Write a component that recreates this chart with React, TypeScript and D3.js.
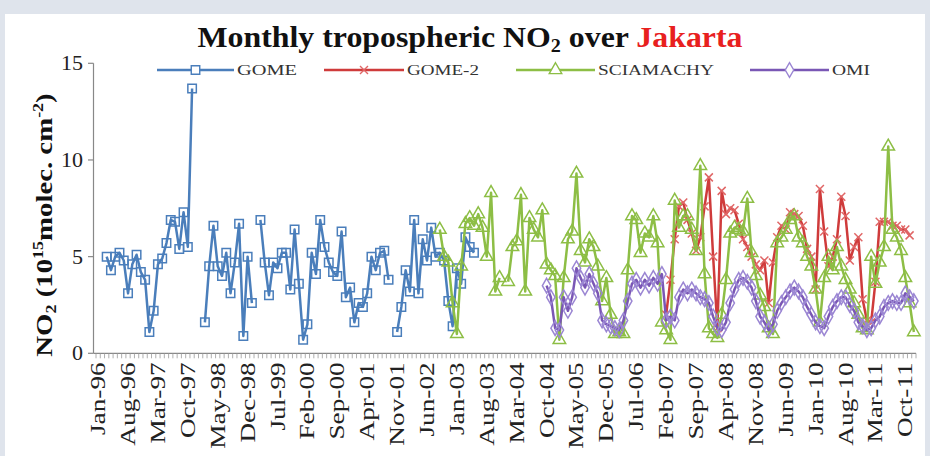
import React from 'react';
import * as d3 from 'd3';

const W = 930;
const H = 456;

const monthNames = ['Jan', 'Feb', 'Mar', 'Apr', 'May', 'Jun', 'Jul', 'Aug', 'Sep', 'Oct', 'Nov', 'Dec'];
const years = d3.range(1996, 2012);
const categories: string[] = [];
years.forEach((y) => monthNames.forEach((m) => categories.push(`${m}-${String(y % 100).padStart(2, '0')}`)));

const tickLabels = ['Jan-96', 'Aug-96', 'Mar-97', 'Oct-97', 'May-98', 'Dec-98', 'Jul-99', 'Feb-00', 'Sep-00', 'Apr-01', 'Nov-01', 'Jun-02', 'Jan-03', 'Aug-03', 'Mar-04', 'Oct-04', 'May-05', 'Dec-05', 'Jul-06', 'Feb-07', 'Sep-07', 'Apr-08', 'Nov-08', 'Jun-09', 'Jan-10', 'Aug-10', 'Mar-11', 'Oct-11'];
const yTicks = [0, 5, 10, 15];

// GOME, from Jan-96
const gomeStart = 'Jan-96';
const gomeValues: (number | null)[] = [
  null, null, 5.0, 4.3, 5.0, 5.2, 4.8, 3.1, 4.6, 5.1, 4.2, 3.8, 1.1, 2.2, 4.6, 4.9, 5.7, 6.9, 6.8, 5.4, 7.3, 5.5, 13.7, null,
  null, 1.6, 4.5, 6.6, 4.5, 4.0, 5.2, 3.1, 4.7, 6.7, 0.9, 5.0, 2.6, null, 6.9, 4.7, 3.0, 4.7, 4.4, 5.2, 5.2, 3.3, 6.4, 3.6,
  0.7, 1.5, 5.2, 4.1, 6.9, 5.5, 4.7, 4.2, 4.0, 6.3, 2.9, 3.4, 1.6, 2.6, 2.4, 3.1, 5.0, 4.3, 5.2, 5.3, 3.8, null, 1.1, 2.4,
  4.3, 3.2, 6.9, 3.1, 5.9, 4.8, 6.5, 5.0, 5.2, 4.8, 2.7, 1.4, 4.4, 3.6, 6.0, 5.5, 5.2,
];

// SCIAMACHY, from Sep-02
const sciaStart = 'Sep-02';
const sciaValues: (number | null)[] = [
  6.4, 5.0, 4.7, 2.6, 1.0, 4.5, 6.7, 7.0, 6.6, 7.2, 6.5, 5.0, 8.3, 3.2, 3.9, null,
  3.7, 5.5, 5.8, 8.2, 3.2, 7.0, 6.4, 6.0, 7.4, 4.6, 4.3, 4.0, 0.7, 3.9, 5.9, 6.3,
  9.3, 5.3, 4.7, 5.9, 5.5, 4.5, 2.7, 3.9, 2.0, 1.0, 1.1, 1.0, 4.3, 7.1, 6.9, 5.2,
  6.2, 6.0, 7.1, 5.7, 1.6, 1.2, 0.7, 7.9, 6.5, 7.1, 7.1, 6.4, 5.3, 9.7, 4.1, 1.3,
  1.0, 0.8, 2.0, 3.8, 6.2, 6.5, 6.4, 6.3, 8.0, 5.2, 4.0, 3.0, 2.4, 1.3, 1.0, 5.7,
  6.0, 6.4, 6.9, 7.1, 6.0, 5.7, 5.0, 4.5, 3.3, 1.6, 3.9, 5.0, 4.3, 5.5, 4.5, 3.8,
  3.3, 2.6, 2.0, 1.3, 1.2, 5.0, 3.6, 4.7, 5.5, 10.7, 6.4, 6.0, 5.3, 3.9, 2.6, 1.1,
];

// GOME-2, from Feb-07
const gome2Start = 'Feb-07';
const gome2Values: (number | null)[] = [
  2.0, 3.8, 5.9, 7.6, 7.8, 6.9, 6.2, 5.3, 6.0, 7.6, 9.1, 5.0, 1.3, 8.4, 7.2, 7.5,
  7.4, 6.7, 5.9, 5.5, 5.0, 4.6, 4.3, 4.8, 2.6, 4.7, 6.0, 6.6, 6.4, 7.3, 7.2, 7.1,
  6.6, 5.4, 5.0, 3.3, 8.5, 6.3, 4.5, 5.0, 5.9, 8.1, 7.1, 4.8, 5.5, 6.0, 2.8, 1.7,
  1.6, 3.7, 6.8, 6.8, 6.8, 6.6, 6.6, 6.4, 6.4, 6.1,
];

// OMI, from Oct-04
const omiStart = 'Oct-04';
const omiValues: (number | null)[] = [
  3.5, 2.9, 1.3, 1.2, 2.9, 2.2, 2.9, 4.4, 3.9, 3.4, 4.1, 3.6, 3.1, 1.7, 1.5, 1.4,
  1.3, 1.2, 1.7, 2.7, 3.6, 3.8, 3.4, 3.8, 3.5, 3.9, 3.6, 4.1, 1.7, 1.9, 1.7, 2.9,
  3.3, 3.1, 3.3, 3.1, 2.9, 2.8, 2.6, 1.9, 1.3, 1.2, 1.6, 2.6, 3.3, 3.8, 3.9, 3.7,
  3.4, 2.7, 1.9, 1.6, 1.2, 1.5, 2.2, 2.6, 2.9, 3.2, 3.4, 3.2, 2.9, 2.4, 2.0, 1.6,
  1.4, 1.3, 1.9, 2.4, 2.7, 2.9, 2.9, 2.5, 2.2, 1.6, 1.4, 1.2, 1.3, 1.7, 1.9, 2.4,
  2.6, 2.7, 2.6, 2.6, 3.1, 2.9, 2.7,
];

type Pt = { c: string; v: number | null };
const toPoints = (start: string, values: (number | null)[]): Pt[] => {
  const s = categories.indexOf(start);
  return values.map((v, k) => ({ c: categories[s + k], v }));
};

const crossSymbol = {
  draw(ctx: any, size: number) {
    const r = Math.sqrt(size) / 2;
    ctx.moveTo(-r, -r);
    ctx.lineTo(r, r);
    ctx.moveTo(-r, r);
    ctx.lineTo(r, -r);
  },
};

const series = [
  { name: 'GOME', data: toPoints(gomeStart, gomeValues), color: '#4A7EBB', marker: '#4A7EBB', sym: d3.symbolSquare, size: 72, legendX: 157, legendW: 77, labelW: 60 },
  { name: 'GOME-2', data: toPoints(gome2Start, gome2Values), color: '#CF3B3B', marker: '#E06666', sym: crossSymbol, size: 64, legendX: 324, legendW: 80, labelW: 72 },
  { name: 'SCIAMACHY', data: toPoints(sciaStart, sciaValues), color: '#8DBE45', marker: '#8DBE45', sym: d3.symbolTriangle, size: 68, legendX: 516, legendW: 79, labelW: 116 },
  { name: 'OMI', data: toPoints(omiStart, omiValues), color: '#7A57B5', marker: '#9B86D3', sym: d3.symbolDiamond, size: 62, legendX: 750, legendW: 79, labelW: 38 },
];

const margin = { left: 96, right: 916, top: 63.3, bottom: 353.3 };

export default function App() {
  const x = d3.scaleBand<string>().domain(categories).range([margin.left, margin.right]).padding(0);
  const bw = x.bandwidth();
  const cx = (c: string) => (x(c) as number) + bw / 2;
  const y = d3.scaleLinear().domain([0, 15]).range([margin.bottom, margin.top]);

  const line = d3
    .line<Pt>()
    .defined((d) => d.v != null)
    .x((d) => cx(d.c))
    .y((d) => y(d.v as number));

  const serif = "'Liberation Serif', 'Times New Roman', serif";
  const legendY = 70;

  return (
    <svg width={W} height={H} style={{ position: 'absolute', left: 0, top: 0, display: 'block' }} fontFamily={serif}>
      <rect x={0} y={0} width={W} height={H} fill="#DFE4EC" />
      <rect x={5} y={14} width={W - 10} height={H - 14} fill="#FFFFFF" />

      {/* title */}
      <text x={470} y={47} textAnchor="middle" fontSize={30} fontWeight="bold" fill="#111" textLength={545} lengthAdjust="spacingAndGlyphs">
        Monthly tropospheric NO<tspan fontSize={19} dy={5}>2</tspan>
        <tspan dy={-5}> over </tspan>
        <tspan fill="#E8201E">Jakarta</tspan>
      </text>

      {/* legend */}
      {series.map((s) => {
        const mx = s.legendX + s.legendW / 2;
        return (
          <g key={s.name}>
            <line x1={s.legendX} x2={s.legendX + s.legendW} y1={legendY} y2={legendY} stroke={s.color} strokeWidth={2.5} />
            <path d={d3.symbol(s.sym as any, s.size)() as string} transform={`translate(${mx},${legendY})`} fill="#fff" stroke={s.marker} strokeWidth={1.4} />
            <text x={s.legendX + s.legendW + 3} y={legendY + 5} fontSize={15} fill="#333" textLength={s.labelW} lengthAdjust="spacingAndGlyphs">
              {s.name}
            </text>
          </g>
        );
      })}

      {/* y axis */}
      <line x1={margin.left - 2.5} x2={margin.left - 2.5} y1={margin.top} y2={margin.bottom} stroke="#888" strokeWidth={1.2} />
      {yTicks.map((t) => (
        <g key={t}>
          <line x1={margin.left - 8} x2={margin.left - 2.5} y1={y(t)} y2={y(t)} stroke="#888" strokeWidth={1.2} />
          <text x={margin.left - 13} y={y(t) + 7} textAnchor="end" fontSize={22} fill="#222">
            {t}
          </text>
        </g>
      ))}

      {/* y title */}
      <text transform={`translate(52,225) rotate(-90) scale(1.2,1)`} textAnchor="middle" fontSize={24} fontWeight="bold" fill="#111">
        NO<tspan fontSize={15} dy={4}>2</tspan>
        <tspan dy={-4}> (10</tspan>
        <tspan fontSize={15} dy={-9}>15</tspan>
        <tspan dy={9}>molec. cm</tspan>
        <tspan fontSize={15} dy={-9}>-2</tspan>
        <tspan dy={9}>)</tspan>
      </text>

      {/* x axis */}
      <line x1={margin.left - 2.5} x2={margin.right} y1={margin.bottom} y2={margin.bottom} stroke="#888" strokeWidth={1.2} />
      {categories.map((c) => (
        <line key={c} x1={x(c) as number} x2={x(c) as number} y1={margin.bottom} y2={margin.bottom + 5} stroke="#999" strokeWidth={0.8} />
      ))}
      <line x1={margin.right} x2={margin.right} y1={margin.bottom} y2={margin.bottom + 5} stroke="#999" strokeWidth={0.8} />
      {tickLabels.map((t) => (
        <text key={t} transform={`translate(${cx(t) + 7},${margin.bottom + 9}) rotate(-90) scale(1.3,1)`} textAnchor="end" fontSize={21} fill="#222">
          {t}
        </text>
      ))}

      {/* series */}
      {series.map((s) => (
        <g key={s.name}>
          <path d={line(s.data) as string} fill="none" stroke={s.color} strokeWidth={2.5} strokeLinejoin="round" />
          {s.data
            .filter((d) => d.v != null)
            .map((d) => (
              <path
                key={d.c}
                d={d3.symbol(s.sym as any, s.size)() as string}
                transform={`translate(${cx(d.c)},${y(d.v as number)})`}
                fill="none"
                stroke={s.marker}
                strokeWidth={1.5}
              />
            ))}
        </g>
      ))}
    </svg>
  );
}
